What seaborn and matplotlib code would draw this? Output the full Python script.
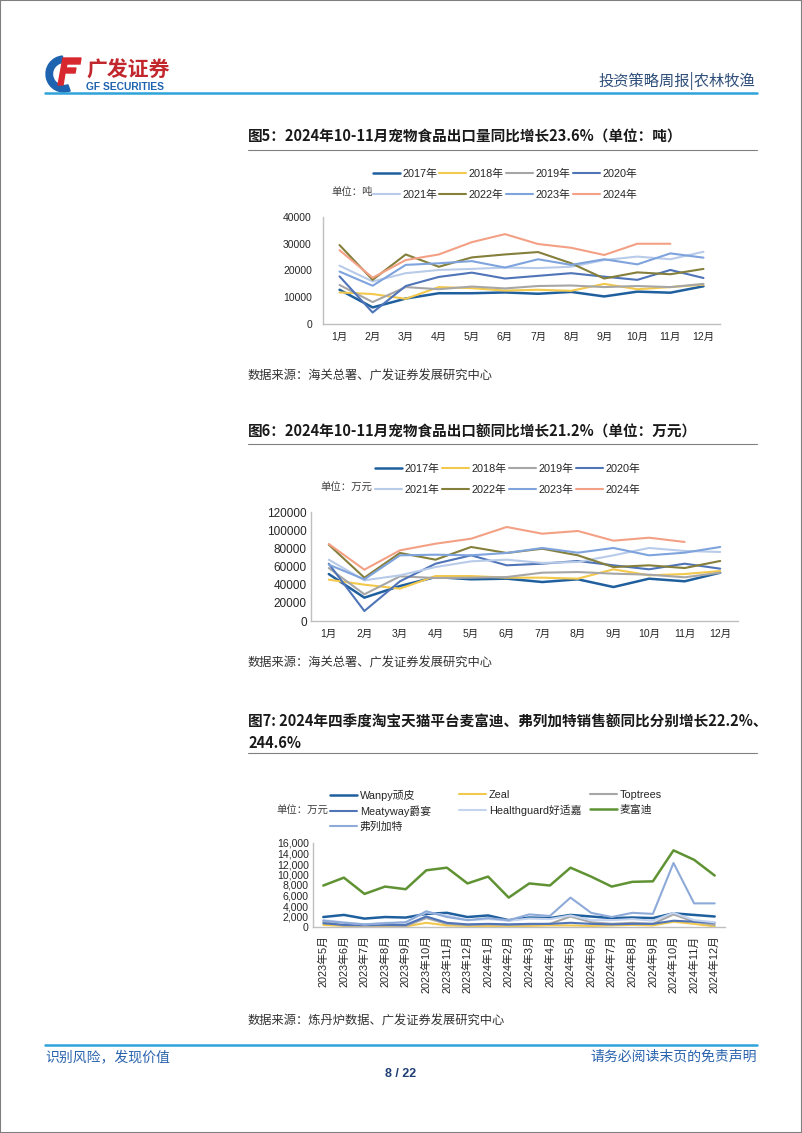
import numpy as np
import pandas as pd
import matplotlib
matplotlib.use("Agg")
import matplotlib.pyplot as plt
import matplotlib.ticker as mticker
from matplotlib.patches import Rectangle, Wedge, Polygon
from matplotlib.lines import Line2D
import seaborn as sns

W, H = 802, 1133

# ---------------- data ----------------
months = [f"{i}月" for i in range(1, 13)]
years = ["2017年", "2018年", "2019年", "2020年", "2021年", "2022年", "2023年", "2024年"]

# 图5 宠物食品出口量（吨）
vol_2017 = [12800, 6200, 9500, 11500, 11500, 11800, 11300, 12000, 10300, 12100, 11700, 14100]
vol_2018 = [11800, 11200, 9400, 13800, 13400, 12500, 12800, 12400, 15000, 13000, 13800, 14700]
vol_2019 = [14600, 8200, 13800, 13000, 14000, 13300, 14200, 14400, 13800, 14200, 13800, 15000]
vol_2020 = [17800, 4300, 14200, 17600, 19200, 17000, 18000, 19000, 17700, 16500, 20200, 17200]
vol_2021 = [21800, 15900, 19000, 20200, 20600, 21100, 20900, 21400, 23900, 25200, 24200, 27000]
vol_2022 = [29500, 16500, 26000, 21400, 24900, 26000, 26900, 22700, 17000, 19300, 18600, 20600]
vol_2023 = [19600, 14300, 22100, 22700, 23500, 21100, 24200, 22100, 24200, 22300, 26400, 24800]
vol_2024 = [27600, 17300, 23900, 26000, 30600, 33600, 29900, 28500, 25800, 30000, 30000]

# 图6 宠物食品出口额（万元）
amt_2017 = [51700, 25700, 38500, 48400, 45900, 46600, 42900, 45900, 37400, 46600, 43700, 53200]
amt_2018 = [45500, 40000, 35600, 49500, 49500, 47700, 47700, 46600, 56900, 50300, 51700, 55000]
amt_2019 = [58300, 29400, 49200, 47300, 47700, 48400, 53200, 53900, 52100, 51000, 48100, 53200]
amt_2020 = [63000, 11000, 43700, 63100, 72300, 61300, 63100, 66100, 61300, 56900, 63100, 57600]
amt_2021 = [67500, 44800, 50300, 59400, 65700, 67500, 63900, 65000, 72300, 80400, 77100, 76000]
amt_2022 = [84000, 47700, 74900, 67500, 81500, 74900, 79600, 72300, 59400, 61300, 58300, 66100]
amt_2023 = [62000, 45900, 72300, 73000, 72300, 74900, 80400, 75200, 80400, 72300, 75200, 81500]
amt_2024 = [84800, 56500, 77800, 85100, 90600, 103500, 96100, 99100, 88400, 91700, 87000]

# 图7 淘宝天猫平台销售额（万元）
tm_months = ["2023年5月", "2023年6月", "2023年7月", "2023年8月", "2023年9月", "2023年10月",
             "2023年11月", "2023年12月", "2024年1月", "2024年2月", "2024年3月", "2024年4月",
             "2024年5月", "2024年6月", "2024年7月", "2024年8月", "2024年9月", "2024年10月",
             "2024年11月", "2024年12月"]
brands = ["Wanpy顽皮", "Zeal", "Toptrees", "Meatyway爵宴", "Healthguard好适嘉", "麦富迪", "弗列加特"]
wanpy = [1900, 2300, 1600, 1900, 1800, 2500, 2700, 1900, 2200, 1300, 1800, 1700, 2300, 2000, 1700, 1800, 1700, 2600, 2300, 2000]
zeal = [400, 200, 100, 100, 100, 800, 300, 200, 200, 200, 200, 300, 300, 200, 300, 400, 300, 1000, 600, 100]
toptrees = [1000, 300, 200, 300, 200, 1700, 600, 400, 500, 400, 500, 600, 2000, 900, 600, 800, 600, 2400, 1000, 400]
meatyway = [700, 400, 400, 400, 400, 2000, 800, 500, 600, 500, 600, 600, 800, 600, 500, 600, 600, 1200, 1000, 800]
healthguard = [1300, 900, 500, 800, 900, 2800, 2200, 1300, 1500, 1200, 1600, 1500, 2200, 1300, 1300, 1500, 1200, 2700, 1300, 900]
mfd = [7900, 9400, 6300, 7700, 7200, 10800, 11300, 8300, 9600, 5600, 8300, 7900, 11300, 9600, 7700, 8600, 8700, 14600, 12800, 9800]
frontier = [1200, 800, 500, 700, 900, 3000, 1900, 1300, 1700, 1300, 2400, 2100, 5600, 2700, 1900, 2700, 2500, 12200, 4500, 4500]

year_colors = ["#1f5f9e", "#f2c94c", "#a6a6a6", "#4f74b8", "#b8cbe9", "#857f3c", "#7fa3dd", "#f3a085"]
year_widths = [1.8, 1.5, 1.5, 1.5, 1.5, 1.5, 1.5, 1.5]
brand_colors = ["#1f5f9e", "#f2c94c", "#a6a6a6", "#4f74b8", "#c5d4ee", "#5f9232", "#8eaad9"]
brand_widths = [1.8, 1.5, 1.5, 1.5, 1.5, 1.8, 1.5]

# ---------------- style ----------------
sns.set_theme(style="white")
plt.rcParams['font.family'] = ['Liberation Sans', 'Noto Sans CJK SC', 'DejaVu Sans']
CJK = ['Noto Sans CJK SC', 'DejaVu Sans']

fig = plt.figure(figsize=(W / 100, H / 100), dpi=100)


def fx(px):
    return px / W


def fy(py):
    return 1 - py / H


def add_ax(left, top, right, bottom):
    return fig.add_axes([fx(left), fy(bottom), (right - left) / W, (bottom - top) / H])


def hline(y, x0, x1, color, lw):
    fig.add_artist(Line2D([fx(x0), fx(x1)], [fy(y), fy(y)], color=color, lw=lw,
                          transform=fig.transFigure))


def line_panel(ax, cats, series, names, colors, widths, ymax, ystep, yfs, pad_y, comma=False):
    for vals, name, c, w in zip(series, names, colors, widths):
        sns.lineplot(x=cats[:len(vals)], y=vals, ax=ax, color=c, linewidth=w,
                     label=name, sort=False)
    ax.get_legend().remove()
    ax.set_xlim(-0.5, len(cats) - 0.5)
    ax.set_ylim(0, ymax)
    ax.set_yticks(np.arange(0, ymax + 1, ystep))
    if comma:
        ax.yaxis.set_major_formatter(mticker.StrMethodFormatter('{x:,.0f}'))
    ax.set_xlabel("")
    ax.set_ylabel("")
    for s in ["top", "right"]:
        ax.spines[s].set_visible(False)
    for s in ["left", "bottom"]:
        ax.spines[s].set_color("#bfbfbf")
        ax.spines[s].set_linewidth(1.0)
    ax.tick_params(axis='both', length=0, colors="#262626")
    ax.tick_params(axis='y', labelsize=yfs, pad=pad_y)
    ax.grid(False)
    ax.set_facecolor("none")


def grid_legend(ax, col_x, top_y, ncol, fs, rowspace):
    handles, labels = ax.get_legend_handles_labels()
    for j in range(ncol):
        hs = handles[j::ncol]
        ls = labels[j::ncol]
        fig.legend(hs, ls, loc='upper left', bbox_to_anchor=(fx(col_x[j]), fy(top_y)),
                   ncol=1, frameon=False, fontsize=fs, handlelength=2.5, handletextpad=0.25,
                   labelspacing=rowspace, borderpad=0, borderaxespad=0)


# ---------------- page frame / header / footer ----------------
fig.add_artist(Rectangle((0, 0), 1, 1, fill=False, edgecolor="#7f7f7f", lw=1.5,
                         transform=fig.transFigure))

logo = add_ax(45, 54, 83, 93)
logo.set_xlim(0, 38)
logo.set_ylim(0, 39)
logo.axis('off')
logo.add_patch(Wedge((19, 19), 18, 95, 290, width=6.5, color="#1e63b0"))
logo.add_patch(Polygon([[13, 8], [18, 8], [20, 20], [30, 20], [31, 25], [21, 25], [22, 29],
                        [35, 29], [36, 35], [18, 35]], closed=True, color="#d7282f"))

fig.text(fx(86), fy(70), "广发证券", fontsize=15, fontweight='bold', color="#c1272d",
         family=CJK, va='center', ha='left')
fig.text(fx(86), fy(87), "GF SECURITIES", fontsize=7.4, fontweight='bold', color="#1e63b0",
         va='center', ha='left')
fig.text(fx(755), fy(81), "投资策略周报|农林牧渔", fontsize=11, color="#2f4f7a",
         family=CJK, va='center', ha='right')
hline(93, 45, 757, "#2ea3d9", 1.8)

hline(1045, 45, 757, "#2ea3d9", 1.8)
fig.text(fx(45), fy(1057), "识别风险，发现价值", fontsize=10, color="#2a63ad",
         family=CJK, va='center', ha='left')
fig.text(fx(757), fy(1057), "请务必阅读末页的免责声明", fontsize=10, color="#2a63ad",
         family=CJK, va='center', ha='right')
fig.text(0.5, fy(1074), "8 / 22", fontsize=9, fontweight='bold', color="#1f3f73",
         va='center', ha='center')

# ---------------- 图5 ----------------
fig.text(fx(248), fy(137), "图5：2024年10-11月宠物食品出口量同比增长23.6%（单位：吨）",
         fontsize=10.5, fontweight='bold', color="#1a1a1a", family=CJK, va='center', ha='left')
hline(150, 248, 757, "#808080", 0.8)

ax5 = add_ax(323, 217, 720, 324)
line_panel(ax5, months, [vol_2017, vol_2018, vol_2019, vol_2020, vol_2021, vol_2022, vol_2023, vol_2024],
           years, year_colors, year_widths, 40000, 10000, 7.5, 8)
ax5.tick_params(axis='x', labelsize=7.5, pad=6)
grid_legend(ax5, [373, 439, 506, 573], 169, 4, 7.8, 0.95)
fig.text(fx(373), fy(192), "单位：吨", fontsize=7.5, color="#404040", family=CJK,
         va='center', ha='right')
fig.text(fx(248), fy(376), "数据来源：海关总署、广发证券发展研究中心", fontsize=8.8,
         color="#333333", family=CJK, va='center', ha='left')

# ---------------- 图6 ----------------
fig.text(fx(248), fy(432), "图6：2024年10-11月宠物食品出口额同比增长21.2%（单位：万元）",
         fontsize=10.5, fontweight='bold', color="#1a1a1a", family=CJK, va='center', ha='left')
hline(444, 248, 757, "#808080", 0.8)

ax6 = add_ax(311, 512, 738, 621)
line_panel(ax6, months, [amt_2017, amt_2018, amt_2019, amt_2020, amt_2021, amt_2022, amt_2023, amt_2024],
           years, year_colors, year_widths, 120000, 20000, 8.5, 3)
ax6.tick_params(axis='x', labelsize=7.5, pad=6)
grid_legend(ax6, [375, 442, 509, 576], 464, 4, 7.8, 0.95)
fig.text(fx(372), fy(488), "单位：万元", fontsize=7.5, color="#404040", family=CJK,
         va='center', ha='right')
fig.text(fx(248), fy(663), "数据来源：海关总署、广发证券发展研究中心", fontsize=8.8,
         color="#333333", family=CJK, va='center', ha='left')

# ---------------- 图7 ----------------
fig.text(fx(248), fy(722), "图7: 2024年四季度淘宝天猫平台麦富迪、弗列加特销售额同比分别增长22.2%、",
         fontsize=10.5, fontweight='bold', color="#1a1a1a", family=CJK, va='center', ha='left')
fig.text(fx(248), fy(743), "244.6%",
         fontsize=10.5, fontweight='bold', color="#1a1a1a", family=CJK, va='center', ha='left')
hline(753, 248, 757, "#808080", 0.8)

ax7 = add_ax(313, 843, 725, 927)
line_panel(ax7, tm_months, [wanpy, zeal, toptrees, meatyway, healthguard, mfd, frontier],
           brands, brand_colors, brand_widths, 16000, 2000, 7.6, 3, comma=True)
ax7.tick_params(axis='x', labelsize=7.8, pad=6, labelrotation=90)
grid_legend(ax7, [330, 459, 590], 790, 3, 7.8, 0.42)
fig.text(fx(328), fy(811), "单位：万元", fontsize=7.5, color="#404040", family=CJK,
         va='center', ha='right')
fig.text(fx(248), fy(1021), "数据来源：炼丹炉数据、广发证券发展研究中心", fontsize=8.8,
         color="#333333", family=CJK, va='center', ha='left')

fig.savefig("out.png", dpi=100, facecolor="white")
